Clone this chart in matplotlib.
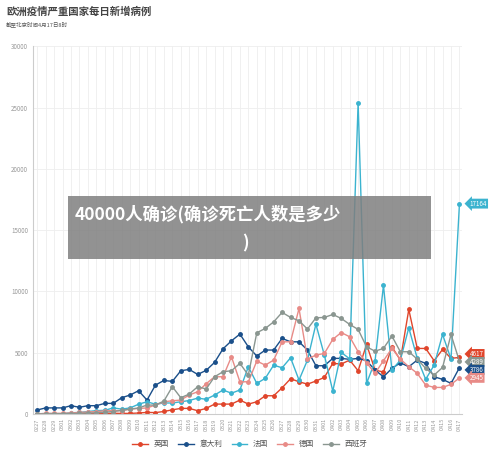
import matplotlib
matplotlib.use("Agg")
import matplotlib.pyplot as plt
import numpy as np

plt.rcParams['font.family'] = ['Noto Sans CJK SC', 'DejaVu Sans']

dates = (["0227", "0228", "0229"] + ["03%02d" % d for d in range(1, 32)]
         + ["04%02d" % d for d in range(1, 18)])
uk = [3, 2, 12, 12, 36, 40, 48, 46, 43, 67, 48, 52, 83, 134, 117, 208, 342,
      460, 460, 270, 460, 810, 810, 810, 1140,
      810, 1000, 1490, 1490, 2140, 2880, 2630, 2440, 2690, 2990, 4130, 4080, 4400, 3530,
      5680, 3590, 3420, 5480, 4400, 8530, 5350, 5350, 4350, 5270, 4540, 4617]
italy = [330, 500, 500, 500, 680, 550, 680, 680, 870, 870, 1330, 1550, 1900, 1140, 2360,
         2740, 2660, 3530, 3640, 3230, 3560, 4210, 5320, 5970, 6520,
         5480, 4730, 5220, 5220, 6170, 5890, 5890, 5220, 3940, 3940, 4540, 4540, 4460, 4540,
         4350, 3590, 3040, 3720, 4180, 3860, 4400, 4130, 3040, 2830, 2500, 3786]
france = [20, 40, 40, 30, 100, 130, 200, 280, 300, 500, 400, 500, 800, 1000, 800, 900, 900,
          1000, 1100, 1300, 1200, 1550, 1960, 1700, 1960,
          3860, 2500, 2910, 3990, 3770, 4590, 2770, 4400, 7330, 4810, 1870, 5030, 4500, 25400,
          2500, 4300, 10500, 3590, 4400, 7040, 4540, 2830, 3990, 6490, 4480, 17164]
germany = [10, 50, 50, 60, 80, 130, 160, 200, 260, 280, 280, 400, 450, 500, 730,
           1000, 1080, 1140, 1550, 1820, 2470, 3040, 3040, 4670, 2630,
           2630, 4320, 3990, 4400, 5890, 5890, 8610, 4480, 4810, 4940, 6090, 6650, 6300, 5080,
           4180, 3320, 4350, 5350, 4480, 3860, 3320, 2360, 2170, 2170, 2420, 2945]
spain = [10, 10, 20, 30, 40, 60, 80, 100, 150, 200, 300, 400, 500, 730, 730,
         1060, 2230, 1330, 1630, 2230, 2040, 3040, 3450, 3530, 4130,
         3180, 6630, 6980, 7520, 8290, 7880, 7610, 6930, 7850, 7880, 8120, 7800, 7310, 6900,
         5480, 5130, 5350, 6360, 5080, 5080, 4480, 3720, 3180, 3800, 6490, 4289]
names = ["英国", "意大利", "法国", "德国", "西班牙"]
colors = ["#e0452b", "#1a4f8a", "#3bb3cf", "#e88b87", "#8a9690"]
series = [uk, italy, france, germany, spain]

fig = plt.figure(figsize=(5, 4.58), dpi=100)
ax = fig.add_axes([0.066, 0.096, 0.858, 0.803])
x = np.arange(len(dates))
for s, c, n in zip(series, colors, names):
    ax.plot(x, s, color=c, lw=1, marker='o', ms=2.5, label=n)
ax.set_xlim(-0.5, 50.3)
ax.set_ylim(0, 30000)
ax.set_yticks(range(0, 30001, 5000))
ax.set_xticks(x)
ax.set_xticklabels(dates, rotation=90, fontsize=4, color='#999999')
ax.tick_params(axis='y', labelsize=4.5, colors='#999999', length=0)
ax.tick_params(axis='x', length=0, pad=3)
ax.grid(True, color='#eeeeee', lw=0.6)
ax.set_axisbelow(True)
for sp in ['top', 'right']:
    ax.spines[sp].set_visible(False)
ax.spines['left'].set_color('#cccccc')
ax.spines['bottom'].set_color('#cccccc')

order = [(colors[2], france[-1]), (colors[0], uk[-1]), (colors[4], spain[-1]),
         (colors[1], italy[-1]), (colors[3], germany[-1])]
ypos = [17164, 4900, 4250, 3600, 2950]
for (c, v), yp in zip(order, ypos):
    ax.annotate(str(v), xy=(1.018, yp), xycoords=('axes fraction', 'data'),
                fontsize=4.5, color='white', va='center', ha='left',
                bbox=dict(boxstyle='larrow,pad=0.15', fc=c, ec='none'),
                annotation_clip=False)

fig.text(0.012, 0.975, "欧洲疫情严重国家每日新增病例", fontsize=7.5, fontweight='bold',
         color='#444444', va='center')
fig.text(0.012, 0.947, "截至北京时间4月17日8时", fontsize=4, color='#555555', va='center')

handles, labels = ax.get_legend_handles_labels()
fig.legend(handles, labels, loc='center', bbox_to_anchor=(0.5, 0.03), ncol=5,
           frameon=False, fontsize=5.5, handlelength=2, columnspacing=1.2,
           labelcolor='#555555')

fig.patches.append(matplotlib.patches.Rectangle((68 / 500, 1 - 259 / 458), 363 / 500, 63 / 458,
                                                transform=fig.transFigure, fc='#7f7f7f',
                                                ec='none', alpha=0.85, zorder=10))
fig.text(0.15, 1 - 214 / 458, "40000人确诊(确诊死亡人数是多少", fontsize=12.5, fontweight='bold',
         color='white', va='center', zorder=11)
fig.text(0.485, 1 - 243 / 458, ")", fontsize=12.5, fontweight='bold', color='white',
         va='center', zorder=11)

fig.savefig("out.png", dpi=100)
